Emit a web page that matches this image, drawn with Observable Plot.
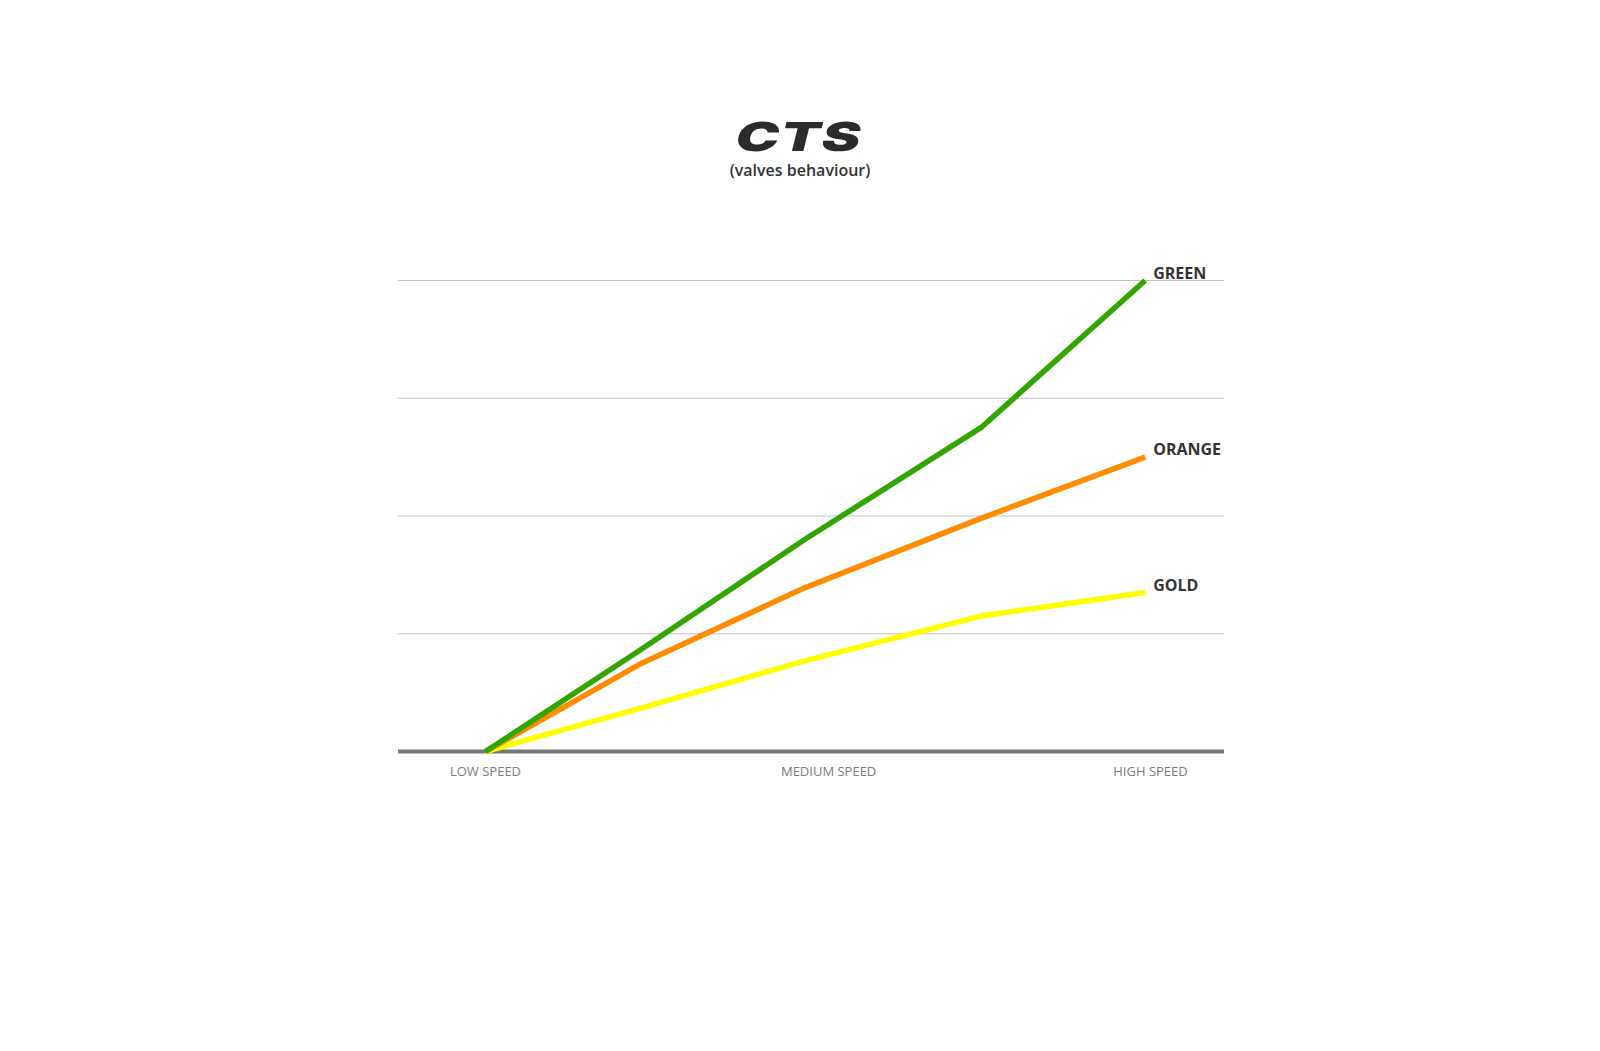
<!DOCTYPE html>
<html>
<head>
<meta charset="utf-8">
<script src="https://cdn.jsdelivr.net/npm/d3@7"></script>
<script src="https://cdn.jsdelivr.net/npm/@observablehq/plot@0.6"></script>
<style>
  html, body { margin: 0; padding: 0; background: #fff; width: 1600px; height: 1051px; overflow: hidden; }
  #logo { position: absolute; left: 0; width: 1600px; top: 112px; text-align: center; }
  #logo span { display: inline-block; font-family: Inter, "Open Sans", sans-serif; font-weight: 900; font-size: 40px; line-height: 50px; color: #2b2b2b; transform: skewX(-14deg) scaleX(1.45); letter-spacing: 1px; }
  #sub { position: absolute; left: 0; width: 1600px; top: 158px; text-align: center; font-family: "Open Sans", sans-serif; font-weight: 600; font-size: 16px; line-height: 24px; color: #333; }
  #chart { position: absolute; left: 0; top: 200px; }
</style>
</head>
<body>
<div id="logo"><span>CTS</span></div>
<div id="sub">(valves behaviour)</div>
<div id="chart"></div>
<script>
// speed positions (LOW = 0, HIGH = 100)
const speeds = [0, 23.5, 48, 74.5, 99.2];
const seriesNames = ["GOLD", "ORANGE", "GREEN"];
const goldValues = [0, 0.37, 0.77, 1.15, 1.35];
const orangeValues = [0, 0.75, 1.39, 1.98, 2.5];
const greenValues = [0, 0.87, 1.8, 2.75, 4.0];
const seriesColors = ["#ffff00", "#ff8c00", "#33a500"];
const tickValues = [0, 51.6, 100];
const tickLabels = ["LOW SPEED", "MEDIUM SPEED", "HIGH SPEED"];
const gridValues = [1, 2, 3, 4];

const valuesBySeries = [goldValues, orangeValues, greenValues];
const rows = [];
seriesNames.forEach((name, s) => {
  speeds.forEach((x, i) => rows.push({series: name, x, y: valuesBySeries[s][i]}));
});
const lastRows = seriesNames.map((name, s) => ({series: name, x: speeds[speeds.length - 1], y: valuesBySeries[s][speeds.length - 1]}));

const chart = Plot.plot({
  width: 1600,
  height: 650,
  marginLeft: 398,
  marginRight: 376,
  marginTop: 80,
  marginBottom: 99,
  x: {domain: [-13.08, 111.13]},
  y: {domain: [0, 4], axis: null},
  color: {type: "ordinal", domain: seriesNames, range: seriesColors},
  style: {fontFamily: "'Open Sans', sans-serif", background: "transparent"},
  marks: [
    Plot.ruleY(gridValues, {stroke: "#c4c4c4", strokeWidth: 1}),
    Plot.axisX({ticks: tickValues, tickFormat: (d, i) => tickLabels[i], tickSize: 0, tickPadding: 15, fontSize: 13, fill: "#7a7a7a", label: null}),
    Plot.ruleY([0], {stroke: "#777", strokeWidth: 4}),
    Plot.line(rows, {x: "x", y: "y", z: "series", stroke: {value: "series", scale: "color"}, strokeWidth: 5.5, strokeLinecap: "butt", strokeLinejoin: "round"}),
    Plot.text(lastRows, {x: "x", y: "y", text: "series", textAnchor: "start", dx: 8, dy: -7, fontSize: 16, fontWeight: "bold", fill: "#333"})
  ]
});
document.getElementById("chart").appendChild(chart);
</script>
</body>
</html>
